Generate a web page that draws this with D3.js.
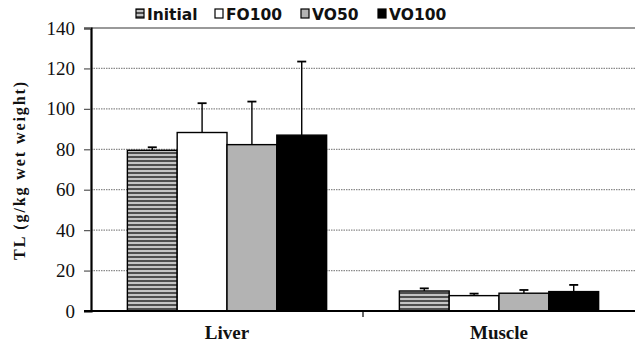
<!DOCTYPE html>
<html><head><meta charset="utf-8">
<script src="https://cdnjs.cloudflare.com/ajax/libs/d3/7.8.5/d3.min.js"></script>
<style>body{margin:0;background:#fff}svg{display:block}</style>
</head><body>
<script>
const categories = ["Liver", "Muscle"];
const seriesNames = ["Initial", "FO100", "VO50", "VO100"];
const initialVals = [79.5, 9.9];
const fo100Vals = [88.3, 7.6];
const vo50Vals = [82.3, 8.8];
const vo100Vals = [87.0, 9.6];
const initialErr = [1.5, 1.3];
const fo100Err = [14.5, 1.0];
const vo50Err = [21.3, 1.6];
const vo100Err = [36.4, 3.3];
const yTicks = [0, 20, 40, 60, 80, 100, 120, 140];

const values = [initialVals, fo100Vals, vo50Vals, vo100Vals];
const errs = [initialErr, fo100Err, vo50Err, vo100Err];

const W = 635, H = 347;
const m = {l: 91, r: 0, t: 28, b: 36};
const svg = d3.select("body").append("svg").attr("width", W).attr("height", H);
const defs = svg.append("defs");
const pat = defs.append("pattern").attr("id", "stripes").attr("patternUnits", "userSpaceOnUse")
  .attr("width", 8).attr("height", 4);
pat.append("rect").attr("width", 8).attr("height", 4).attr("fill", "#c4c4c4");
pat.append("rect").attr("width", 8).attr("height", 2).attr("fill", "#4e4e4e");

const fills = ["url(#stripes)", "#ffffff", "#b3b3b3", "#000000"];

const x0 = d3.scaleBand().domain(categories).range([m.l, W - m.r]).paddingInner(0).paddingOuter(0);
const x1 = d3.scaleBand().domain(seriesNames).range([0, x0.bandwidth()]).paddingOuter(0.73).paddingInner(0);
const y = d3.scaleLinear().domain([0, 140]).range([H - m.b, m.t]);

// gridlines
const g = svg.append("g");
g.selectAll("line.grid").data(yTicks.filter(d => d > 0 && d < 140)).enter().append("line")
  .attr("x1", m.l).attr("x2", W - m.r).attr("y1", d => y(d)).attr("y2", d => y(d))
  .attr("stroke", "#8a8a8a").attr("stroke-width", 1.2).attr("stroke-dasharray", "1.5,1");
// top border
g.append("line").attr("x1", m.l).attr("x2", W).attr("y1", y(140)).attr("y2", y(140))
  .attr("stroke", "#777").attr("stroke-width", 1.5);

// bars
const bars = [];
categories.forEach((c, ci) => seriesNames.forEach((s, si) => bars.push({c, s, si, v: values[si][ci], e: errs[si][ci]})));
const bg = svg.append("g");
bg.selectAll("line.err").data(bars).enter().append("line")
  .attr("x1", d => x0(d.c) + x1(d.s) + x1.bandwidth() / 2)
  .attr("x2", d => x0(d.c) + x1(d.s) + x1.bandwidth() / 2)
  .attr("y1", d => y(d.v)).attr("y2", d => y(d.v + d.e))
  .attr("stroke", "#000").attr("stroke-width", 1.4);
bg.selectAll("line.cap").data(bars).enter().append("line")
  .attr("x1", d => x0(d.c) + x1(d.s) + x1.bandwidth() / 2 - 4.5)
  .attr("x2", d => x0(d.c) + x1(d.s) + x1.bandwidth() / 2 + 4.5)
  .attr("y1", d => y(d.v + d.e)).attr("y2", d => y(d.v + d.e))
  .attr("stroke", "#000").attr("stroke-width", 1.8);
bg.selectAll("rect").data(bars).enter().append("rect")
  .attr("x", d => x0(d.c) + x1(d.s)).attr("width", x1.bandwidth())
  .attr("y", d => y(d.v)).attr("height", d => y(0) - y(d.v))
  .attr("fill", d => fills[d.si]).attr("stroke", "#000").attr("stroke-width", 1.4);

// y axis
const ya = svg.append("g").attr("transform", `translate(${m.l},0)`)
  .call(d3.axisLeft(y).tickValues(yTicks).tickSize(7).tickPadding(9));
ya.select(".domain").attr("stroke", "#000").attr("stroke-width", 2.2);
ya.selectAll(".tick line").attr("stroke", "#555").attr("stroke-width", 1.2);
ya.selectAll(".tick text").attr("font-family", "Liberation Serif, serif").attr("font-size", 19).attr("fill", "#111");

// x axis
const xa = svg.append("g").attr("transform", `translate(0,${y(0)})`);
xa.append("line").attr("x1", m.l - 7).attr("x2", W).attr("y1", 0).attr("y2", 0).attr("stroke", "#000").attr("stroke-width", 2);
xa.selectAll("line.sep").data(categories.slice(1)).enter().append("line")
  .attr("x1", d => x0(d)).attr("x2", d => x0(d)).attr("y1", 0).attr("y2", 6)
  .attr("stroke", "#000").attr("stroke-width", 1.2);
xa.selectAll("text").data(categories).enter().append("text")
  .attr("x", d => x0(d) + x0.bandwidth() / 2).attr("y", 28)
  .attr("text-anchor", "middle").attr("font-family", "Liberation Serif, serif")
  .attr("font-weight", "bold").attr("font-size", 19).attr("fill", "#111").text(d => d);

// y title
svg.append("text").attr("transform", `translate(25,170) rotate(-90)`)
  .attr("text-anchor", "middle").attr("font-family", "Liberation Serif, serif")
  .attr("font-weight", "bold").attr("font-size", 16).attr("letter-spacing", 1.9)
  .attr("fill", "#111").text("TL (g/kg wet weight)");

// legend
const legX = [136, 215, 301, 378];
const lg = svg.append("g");
seriesNames.forEach((s, i) => {
  lg.append("rect").attr("x", legX[i]).attr("y", 9).attr("width", 8).attr("height", 9)
    .attr("fill", fills[i]).attr("stroke", "#000").attr("stroke-width", 1.2);
  lg.append("text").attr("x", legX[i] + 11).attr("y", 20)
    .attr("font-family", "DejaVu Sans, sans-serif").attr("font-weight", "bold")
    .attr("font-size", 15.5).attr("fill", "#111").text(s);
});
</script>
</body></html>
